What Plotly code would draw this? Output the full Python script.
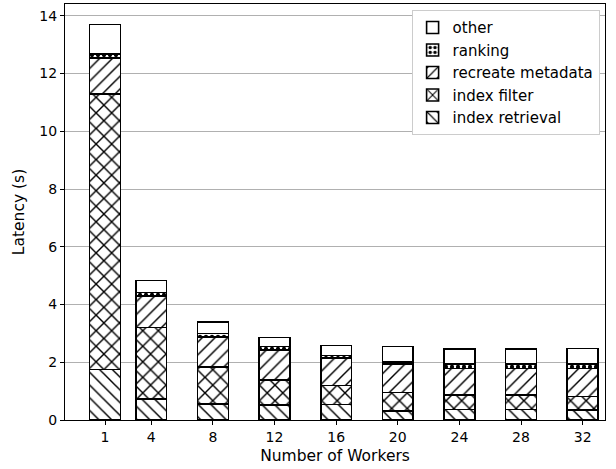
import plotly.graph_objects as go

# Number of workers (x positions of the stacked bars)
workers = [1, 4, 8, 12, 16, 20, 24, 28, 32]

# Latency breakdown per stage, in seconds
index_retrieval = [1.75, 0.72, 0.55, 0.51, 0.54, 0.32, 0.37, 0.37, 0.35]
index_filter = [9.55, 2.48, 1.29, 0.88, 0.66, 0.63, 0.50, 0.50, 0.46]
recreate_metadata = [1.25, 1.10, 1.04, 1.04, 0.95, 0.98, 0.92, 0.92, 0.98]
ranking = [0.12, 0.11, 0.12, 0.11, 0.08, 0.08, 0.14, 0.14, 0.14]
other = [1.03, 0.42, 0.40, 0.32, 0.35, 0.53, 0.52, 0.52, 0.55]

# hatch shape and density for each stage
series = [
    ("index retrieval", index_retrieval, "\\", 9, 0.16),
    ("index filter", index_filter, "x", 11, 0.24),
    ("recreate metadata", recreate_metadata, "/", 9, 0.16),
    ("ranking", ranking, ".", 6, 0.4),
    ("other", other, "", 8, 0.2),
]

fig = go.Figure()
for name, vals, shape, size, solidity in series:
    pattern = dict(shape=shape, fgcolor="black", bgcolor="white",
                   fgopacity=1, size=size, solidity=solidity,
                   fillmode="replace")
    fig.add_trace(go.Bar(
        x=workers, y=vals, name=name, width=2,
        marker=dict(color="white", pattern=pattern,
                    line=dict(color="black", width=1.6)),
    ))

font = "DejaVu Sans"
fig.update_layout(
    barmode="stack",
    width=616, height=469,
    margin=dict(l=65, r=11, t=4, b=49),
    plot_bgcolor="white", paper_bgcolor="white",
    font=dict(family=font, size=14, color="black"),
    showlegend=True,
    legend=dict(
        traceorder="reversed",
        x=0.99, y=0.985, xanchor="right", yanchor="top",
        bordercolor="#cccccc", borderwidth=1, bgcolor="white",
        font=dict(size=15), itemwidth=30,
    ),
    xaxis=dict(
        range=[-1.6, 33.45], tickmode="array", tickvals=workers,
        ticktext=[str(w) for w in workers],
        showline=True, linecolor="black", linewidth=1.2, mirror=True,
        ticks="outside", ticklen=4, tickcolor="black", showgrid=False,
        zeroline=False,
        title=dict(text="Number of Workers", standoff=6,
                   font=dict(size=15.5)),
    ),
    yaxis=dict(
        range=[0, 14.41], tickmode="array", tickvals=list(range(0, 15, 2)),
        showline=True, linecolor="black", linewidth=1.2, mirror=True,
        ticks="outside", ticklen=4, tickcolor="black",
        showgrid=True, gridcolor="#b0b0b0", gridwidth=1, zeroline=False,
        title=dict(text="Latency (s)", standoff=10, font=dict(size=15.5)),
    ),
)

fig.write_html("out.html")
